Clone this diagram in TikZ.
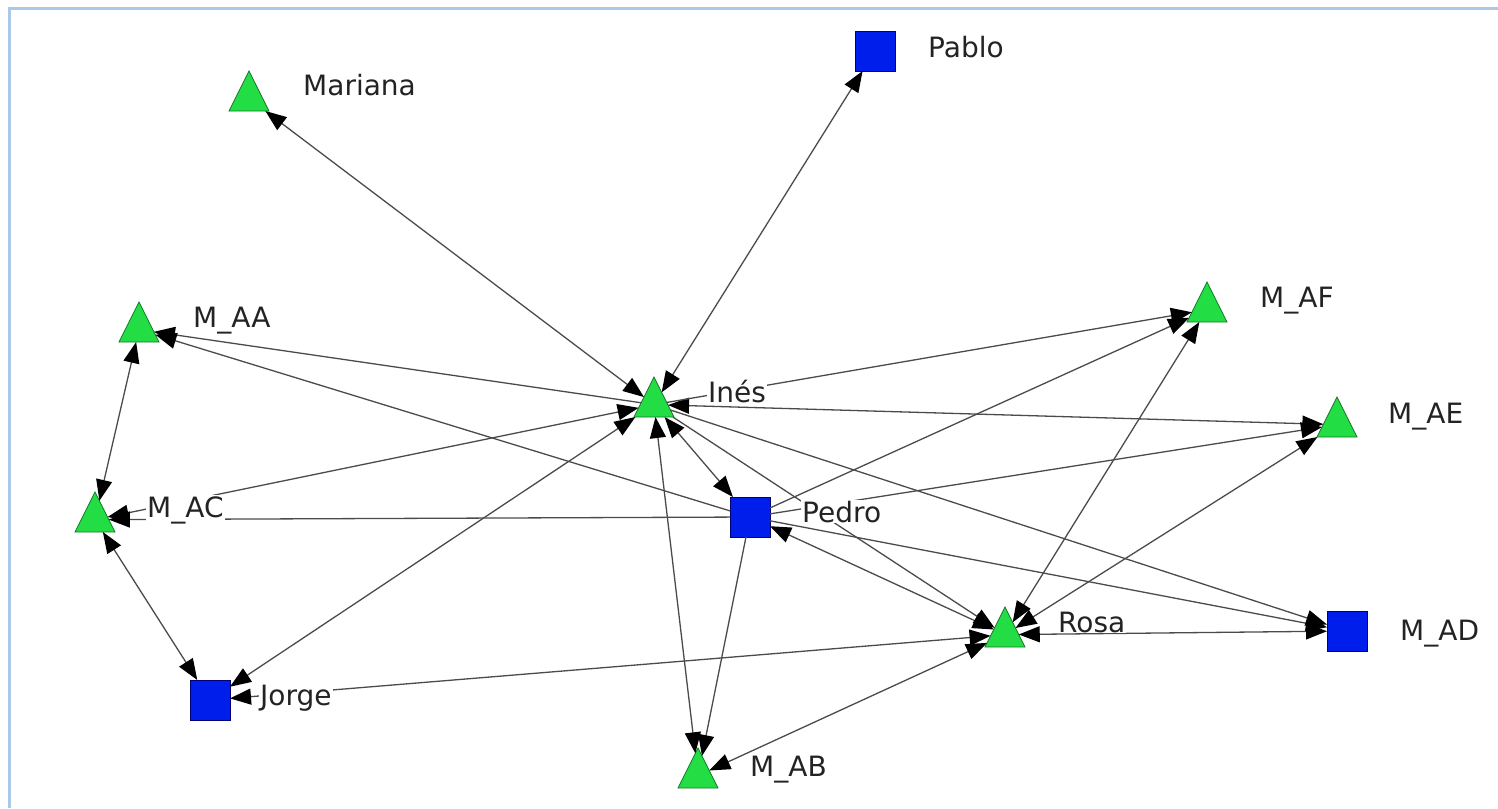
\documentclass[tikz,border=0pt]{standalone}
\usepackage{fontspec}
\setmainfont{DejaVu Sans}
\usetikzlibrary{shapes.geometric,arrows.meta}
\definecolor{actorgreen}{RGB}{34,221,68}
\definecolor{actorgreenline}{RGB}{20,120,40}
\definecolor{actorblue}{RGB}{0,30,235}
\definecolor{actorblueline}{RGB}{0,0,120}
\definecolor{linkgray}{RGB}{75,75,75}
\definecolor{labelgray}{RGB}{35,35,35}
\definecolor{framecol}{RGB}{170,200,232}
\tikzset{
  tri/.style={isosceles triangle, isosceles triangle apex angle=53.13,
    shape border rotate=90, minimum width=40pt, minimum height=40pt,
    inner sep=0pt, outer sep=0pt, fill=actorgreen, draw=actorgreenline, line width=0.8pt},
  sq/.style={rectangle, minimum size=40pt, inner sep=0pt, outer sep=0pt,
    fill=actorblue, draw=actorblueline, line width=0.8pt},
  lbl/.style={anchor=base west, fill=white, inner sep=1pt, text=labelgray,
    font=\fontsize{28}{32}\selectfont},
  link/.style={draw=linkgray, line width=1.3pt},
  >={Triangle[length=21pt,width=16pt,color=black]}
}
\begin{document}
\begin{tikzpicture}[x=1pt,y=-1pt]
\useasboundingbox (0,0) rectangle (1498,808);
% window frame
\draw[framecol, line width=3pt] (9,808) -- (9,9) -- (1498,9);

% actors
\node[tri, anchor=apex] (mariana) at (249,71) {};
\node[sq] (pablo) at (875,51) {};
\node[tri, anchor=apex] (maa) at (139,302) {};
\node[tri, anchor=apex] (mac) at (95,492) {};
\node[sq] (jorge) at (210,700) {};
\node[tri, anchor=apex] (ines) at (654,377) {};
\node[sq] (pedro) at (750,517) {};
\node[tri, anchor=apex] (mab) at (698,748) {};
\node[tri, anchor=apex] (rosa) at (1005,607) {};
\node[tri, anchor=apex] (maf) at (1207,282) {};
\node[tri, anchor=apex] (mae) at (1337,397) {};
\node[sq] (mad) at (1347,631) {};

% reciprocal ties
\draw[link,<->] (mariana) -- (ines);
\draw[link,<->] (pablo) -- (ines);
\draw[link,<->] (maa) -- (mac);
\draw[link,<->] (mac) -- (jorge);
\draw[link,<->] (mac) -- (ines);
\draw[link,<->] (jorge) -- (ines);
\draw[link,<->] (ines) -- (pedro);
\draw[link,<->] (ines) -- (mab);
\draw[link,<->] (ines) -- (mae);
\draw[link,<->] (pedro) -- (rosa);
\draw[link,<->] (jorge) -- (rosa);
\draw[link,<->] (mab) -- (rosa);
\draw[link,<->] (rosa) -- (maf);
\draw[link,<->] (rosa) -- (mae);
\draw[link,<->] (rosa) -- (mad);

% one-way ties
\draw[link,->] (ines) -- (maa);
\draw[link,->] (pedro) -- (maa);
\draw[link,->] (pedro) -- (mac);
\draw[link,->] (pedro) -- (mab);
\draw[link,->] (pedro) -- (maf);
\draw[link,->] (pedro) -- (mae);
\draw[link,->] (pedro) -- (mad);
\draw[link,->] (ines) -- (maf);
\draw[link,->] (ines) -- (mad);
\draw[link,->] (ines) -- (rosa);

% names
\node[lbl] (tmariana) at (302,95) {Mariana};
\node[lbl] (tpablo) at (927,57) {Pablo};
\node[lbl] (tmaa) at (192,327) {M\_AA};
\node[lbl] (tmac) at (146,517) {M\_AC};
\node[lbl] (tjorge) at (259,705) {Jorge};
\node[lbl] (tines) at (707,402) {Inés};
\node[lbl] (tpedro) at (801,522) {Pedro};
\node[lbl] (tmab) at (749,776) {M\_AB};
\node[lbl] (trosa) at (1057,632) {Rosa};
\node[lbl] (tmaf) at (1259,307) {M\_AF};
\node[lbl] (tmae) at (1387,423) {M\_AE};
\node[lbl] (tmad) at (1399,640) {M\_AD};
\end{tikzpicture}
\end{document}
